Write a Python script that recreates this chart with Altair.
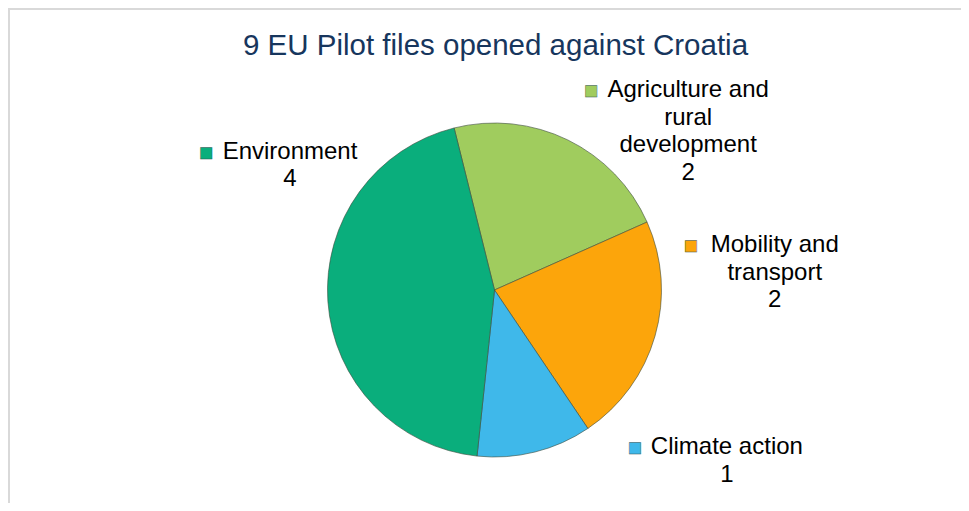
import math
import altair as alt
import pandas as pd

# ---- data ----
categories = ["Agriculture and rural development", "Mobility and transport", "Climate action", "Environment"]
values = [2, 2, 1, 4]
label_text = ["Agriculture and\nrural\ndevelopment\n2", "Mobility and\ntransport\n2", "Climate action\n1", "Environment\n4"]
colors = ["#a0cc5e", "#fca50b", "#3fb8ea", "#0aae7c"]
title_text = "9  EU Pilot files opened against Croatia"

# ---- layout (label offsets from the slice mid-angle anchor) ----
label_offsets = [(106, -20), (88, -100), (184, -37), (-5, -152)]
marker_offsets = [(9, -20), (4, -100), (92, -37), (-89, -152)]

df = pd.DataFrame({"category": categories, "value": values,
                   "label": label_text, "order": list(range(len(categories)))})

start = 2 * math.pi - math.radians(14)
theta = alt.Theta("value:Q", stack=True,
                  scale=alt.Scale(range=[start, start + 2 * math.pi]))
color = alt.Color("category:N", scale=alt.Scale(domain=categories, range=colors), legend=None)
order = alt.Order("order:Q")

base = alt.Chart(df)

pie = base.mark_arc(outerRadius=167, stroke="#3d4d3d", strokeWidth=1, strokeOpacity=0.6).encode(
    theta=theta, color=color, order=order
)

layers = [pie]
for cat, col, (tdx, tdy), (mdx, mdy) in zip(categories, colors, label_offsets, marker_offsets):
    txt = base.transform_calculate(
        txt=f"datum.category === '{cat}' ? datum.label : ''"
    ).mark_text(radius=200, dx=tdx, dy=tdy, fontSize=24, lineHeight=27.5,
                font="Liberation Sans", color="#000000", lineBreak="\n",
                align="center", baseline="middle").encode(
        theta=theta, text="txt:N", order=order
    )
    mk = base.transform_calculate(
        mk=f"datum.category === '{cat}' ? '\u25a0' : ''"
    ).mark_text(radius=200, dx=mdx, dy=mdy, fontSize=15, font="DejaVu Sans",
                color=col, stroke="#2f4f4f", strokeWidth=0.4,
                align="center", baseline="middle").encode(
        theta=theta, text="mk:N", order=order
    )
    layers += [txt, mk]

title = alt.Chart(pd.DataFrame({"t": [title_text]})).mark_text(
    fontSize=29.5, font="Liberation Sans", color="#17365d", align="center", baseline="middle"
).encode(text="t:N", x=alt.value(467.5), y=alt.value(-31))

frame = alt.Chart(pd.DataFrame({"a": [0]}))
top_line = frame.mark_rule(color="#d9d9d9", strokeWidth=2).encode(
    x=alt.value(-20), x2=alt.value(933), y=alt.value(-68))
left_line = frame.mark_rule(color="#d9d9d9", strokeWidth=2).encode(
    x=alt.value(-19), y=alt.value(-69), y2=alt.value(426))

chart = alt.layer(top_line, left_line, *layers, title).properties(
    width=933, height=426,
    autosize=alt.AutoSizeParams(type="none"),
    padding={"left": 20, "top": 69, "right": 0, "bottom": 0},
    background="white",
).configure_view(stroke="transparent")

chart.save("out.html", embed_options={"renderer": "svg", "actions": False})
